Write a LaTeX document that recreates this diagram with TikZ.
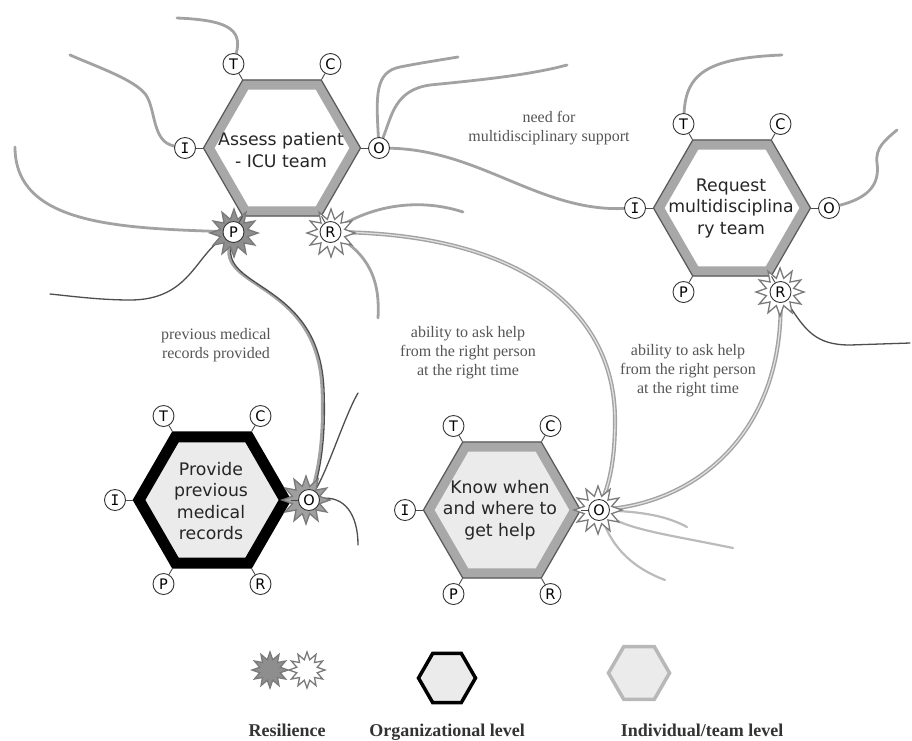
\documentclass[tikz,border=0pt]{standalone}
\usepackage{fontspec}
\setmainfont{Liberation Serif}
\newfontfamily\hexfont{DejaVu Sans}
\newfontfamily\portIfont{DejaVu Sans Mono}
\usetikzlibrary{shapes.geometric,backgrounds,calc}
\definecolor{band}{HTML}{A8A8A8}
\definecolor{edgec}{HTML}{5A5A5A}
\definecolor{wirec}{HTML}{A2A2A2}
\definecolor{lightwirec}{HTML}{BBBBBB}
\definecolor{darkwirec}{HTML}{4E4E4E}
\definecolor{labelgray}{HTML}{555555}
\definecolor{hexfill}{HTML}{EBEBEB}
\definecolor{starfill}{HTML}{8E8E8E}
\definecolor{staredge}{HTML}{7A7A7A}
\tikzset{
  hexband/.style={regular polygon, regular polygon sides=6, minimum size=146.5pt, inner sep=0pt, outer sep=0pt, line width=10pt, draw=band, fill=white},
  hexorg/.style={regular polygon, regular polygon sides=6, minimum size=146pt, inner sep=0pt, outer sep=0pt, line width=11pt, draw=black, fill=hexfill},
  hexedge/.style={regular polygon, regular polygon sides=6, minimum size=157pt, inner sep=0pt, outer sep=0pt, draw=edgec, line width=1.2pt},
  hextext/.style={font=\hexfont\fontsize{17.3}{21.5}\selectfont, align=center, text=black!85},
  port/.style={circle, draw=black!80, line width=0.9pt, fill=white, minimum size=21pt, inner sep=0pt, font=\hexfont\fontsize{14.5}{14.5}\selectfont},
  stub/.style={draw=black!70, line width=0.9pt},
  burst/.style={star, star points=12, star point ratio=1.7, minimum size=48pt, inner sep=0pt, line width=1.3pt, draw=staredge},
  burstfull/.style={burst, fill=starfill},
  burstopen/.style={burst, fill=white},
  wire/.style={draw=wirec, line width=2.8pt, line cap=round},
  lightwire/.style={draw=lightwirec, line width=2.2pt, line cap=round},
  darkwire/.style={draw=darkwirec, line width=1.3pt, line cap=round},
  twin/.style={draw=wirec, line width=1.4pt, double=white!88!black, double distance=1.3pt},
  lbl/.style={font=\fontsize{16}{19}\selectfont, text=labelgray, align=center},
  legend/.style={font=\bfseries\fontsize{18}{20}\selectfont, text=black!80, anchor=base}
}
\newcommand\hexports[3]{%
  \foreach \px/\py/\vx/\vy/\l/\t in {-48.5/-84/-39.5/-68.4/T/T, 48.5/-84/39.5/-68.4/C/C, 97/0/79/0/O/O, 48.5/84/39.5/68.4/R/R, -48.5/84/-39.5/68.4/P/P, -97/0/-79/0/I/{\portIfont I}}{
    \node[port] (#1\l) at ($(#2,#3)+(\px,\py)$) {\t};
    \coordinate (#1v\l) at ($(#2,#3)+(\vx,\vy)$);
  }%
}
\begin{document}
\begin{tikzpicture}[x=1pt,y=-1pt]
\path[use as bounding box] (0,0) rectangle (912,740);

% hexagons
\node[hexband] (h1) at (282,148) {};
\node[hexedge] (h1e) at (282,148) {};
\node[hexband] (h2) at (732,208) {};
\node[hexedge] (h2e) at (732,208) {};
\node[hexorg] (h3) at (212,500) {};
\node[hexband, fill=hexfill] (h4) at (502,510) {};
\node[hexedge] (h4e) at (502,510) {};

\node[hextext] (h1t) at (281,150) {Assess patient\\- ICU team};
\node[hextext] (h2t) at (731,208) {Request\\multidisciplina\\ry team};
\node[hextext] (h3t) at (211,501) {Provide\\previous\\medical\\records};
\node[hextext] (h4t) at (500,510) {Know when\\and where to\\get help};

% resilience bursts
\node[burstfull] (s1) at (234,233) {};
\node[burstopen] (s2) at (331,233) {};
\node[burstopen] (s3) at (780,292) {};
\node[burstfull, fill=starfill!85!white] (s4) at (306,500) {};
\node[burstopen] (s5) at (598,510) {};

% ports
\hexports{h1}{282}{148}
\hexports{h2}{732}{208}
\hexports{h3}{212}{500}
\hexports{h4}{502}{510}
\foreach \h in {h1,h2,h3,h4}{
  \foreach \l in {T,C,O,R,P,I}{
    \draw[stub] (\h\l) -- (\h v\l);
  }
}

% free ends
\coordinate (e1) at (177,18);
\coordinate (e2) at (70,55);
\coordinate (e3) at (15,147);
\coordinate (e4) at (50,294);
\coordinate (e5) at (358,393);
\coordinate (e6) at (358,545);
\coordinate (e7) at (463,212);
\coordinate (e8) at (378,318);
\coordinate (e9) at (458,57);
\coordinate (e10) at (567,65);
\coordinate (e11) at (782,55);
\coordinate (e12) at (897,130);
\coordinate (e13) at (910,343);
\coordinate (e14) at (687,527);
\coordinate (e15) at (733,548);
\coordinate (e16) at (665,580);

\begin{pgfonlayer}{background}
\fill[white] (0,0) rectangle (912,740);
% hex 1
\draw[wire] (h1T) .. controls (243,28) and (225,20) .. (e1);
\draw[wire] (h1I) .. controls (152,142) and (156,110) .. (146,95) .. controls (135,80) and (100,68) .. (e2);
\draw[wire] (h1P) .. controls (120,228) and (15,225) .. (e3);
\draw[darkwire] (h1P) .. controls (195,255) and (190,300) .. (130,300) .. controls (100,300) and (70,296) .. (e4);
\draw[wire] (h1P) .. controls (215,290) and (318,280) .. (322,390) .. controls (324,440) and (318,470) .. (h3O);
\draw[darkwire, transform canvas={xshift=2pt}] (h1P) .. controls (215,290) and (318,280) .. (322,390) .. controls (324,440) and (318,470) .. (h3O);
\draw[wire] (h1R) .. controls (375,205) and (420,198) .. (e7);
\draw[twin] (h1R) .. controls (520,235) and (615,310) .. (615,420) .. controls (615,465) and (608,485) .. (h4O);
\draw[wire] (h1R) .. controls (372,258) and (380,285) .. (e8);
\draw[wire] (h1O) .. controls (480,150) and (540,212) .. (h2I);
\draw[wire] (h1O) .. controls (376,95) and (375,72) .. (400,67) .. controls (420,63) and (440,60) .. (e9);
\draw[wire] (h1O) .. controls (392,115) and (395,90) .. (430,85) .. controls (480,80) and (530,75) .. (e10);
% hex 3
\draw[darkwire] (h3O) .. controls (328,470) and (345,415) .. (e5);
\draw[darkwire] (h3O) .. controls (345,495) and (358,515) .. (e6);
% hex 2
\draw[wire] (h2T) .. controls (686,75) and (705,58) .. (e11);
\draw[wire] (h2O) .. controls (868,198) and (880,185) .. (877,163) .. controls (875,148) and (885,140) .. (e12);
\draw[darkwire] (h2R) .. controls (805,330) and (815,345) .. (850,345) -- (e13);
\draw[twin] (h2R) .. controls (782,430) and (700,500) .. (h4O);
% hex 4
\draw[lightwire] (h4O) .. controls (640,512) and (665,515) .. (e14);
\draw[lightwire] (h4O) .. controls (630,530) and (670,535) .. (e15);
\draw[lightwire] (h4O) .. controls (610,540) and (625,565) .. (e16);
\end{pgfonlayer}

% connector labels
\node[lbl] (l1) at (549,128) {need for\\multidisciplinary support};
\node[lbl] (l2) at (216,345) {previous medical\\records provided};
\node[lbl] (l3) at (468,353) {ability to ask help\\from the right person\\at the right time};
\node[lbl] (l4) at (688,371) {ability to ask help\\from the right person\\at the right time};

% legend
\node[burstfull, minimum size=36pt] (k1) at (270,670) {};
\node[burstopen, minimum size=36pt] (k2) at (307,670) {};
\node[regular polygon, regular polygon sides=6, minimum size=57pt, inner sep=0pt, line width=3.5pt, draw=black, fill=hexfill] (k3) at (447,678) {};
\node[regular polygon, regular polygon sides=6, minimum size=61pt, inner sep=0pt, line width=3.5pt, draw=black!28, fill=hexfill] (k4) at (639,673) {};
\node[legend] (k1t) at (287,736) {Resilience};
\node[legend] (k3t) at (447,736) {Organizational level};
\node[legend] (k4t) at (702,736) {Individual/team level};
\end{tikzpicture}
\end{document}
